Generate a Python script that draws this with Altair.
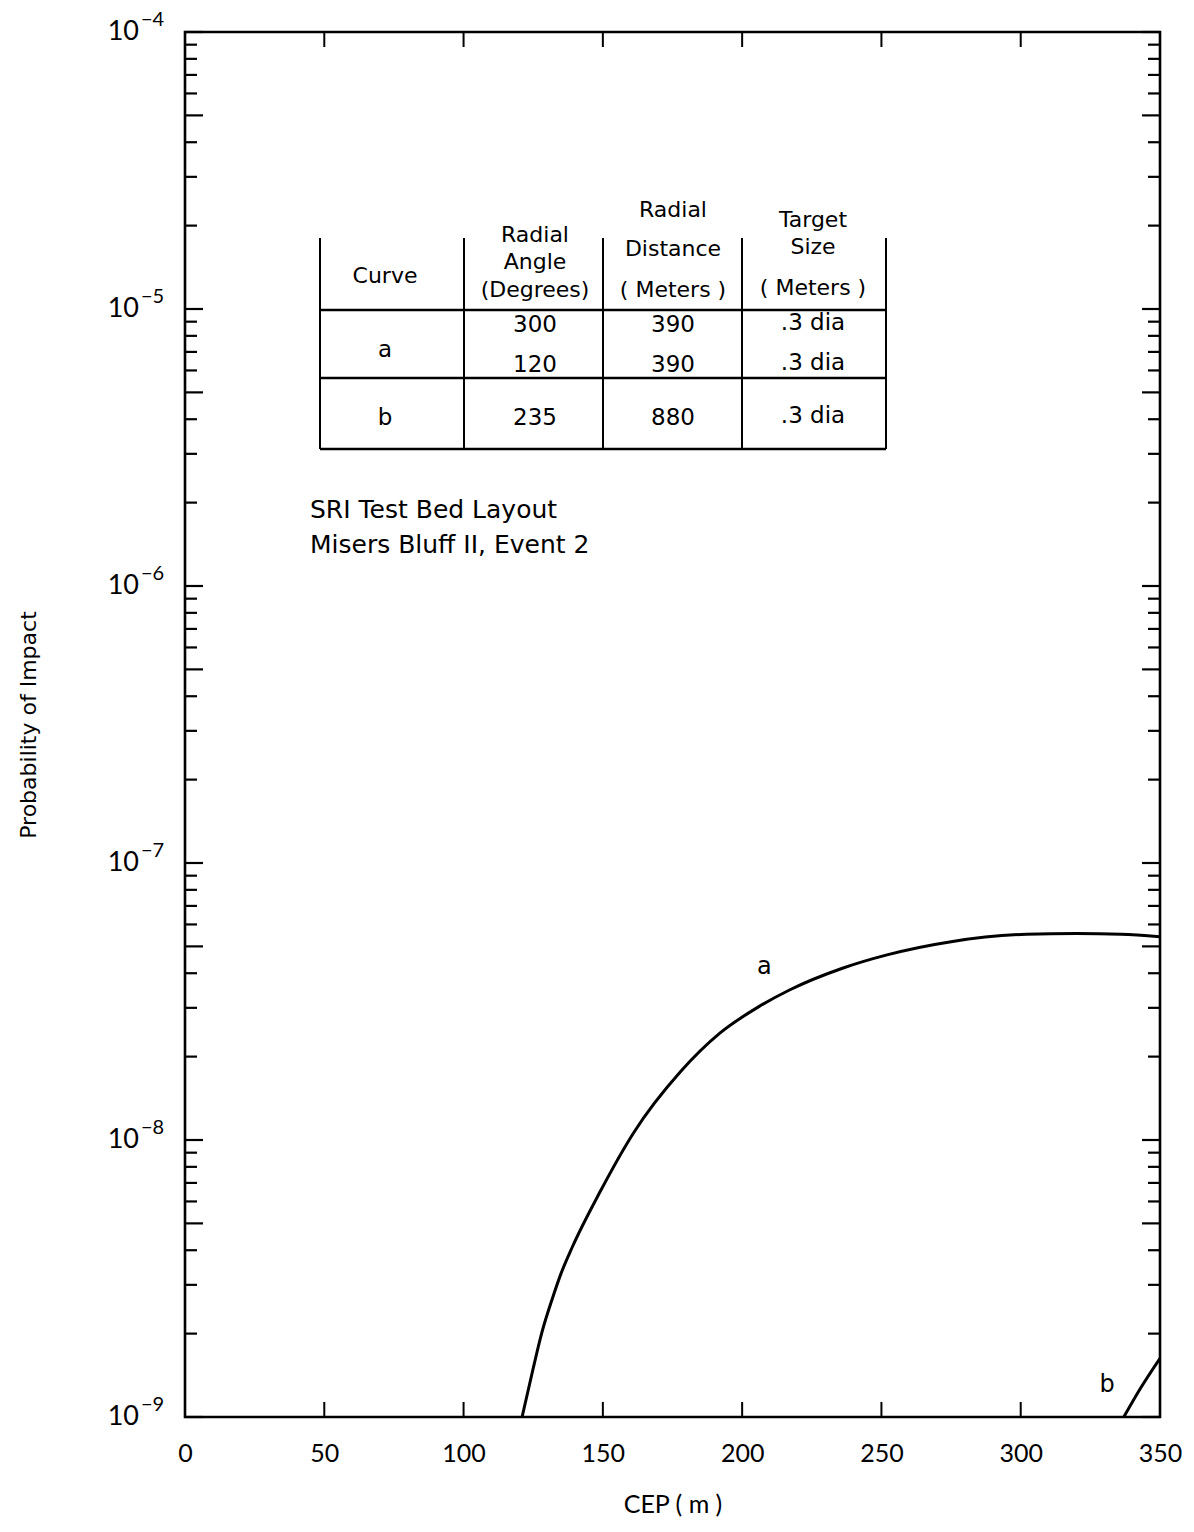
import altair as alt
import pandas as pd

# ---------------- data ----------------
a_cep = [121, 125, 128, 132, 135, 139, 149, 161, 178, 192, 206, 217, 236, 252, 275, 302, 320, 336, 350]
a_p = [1.0e-9, 1.5e-9, 2.0e-9, 2.7e-9, 3.3e-9, 4.1e-9, 6.5e-9, 1.06e-8, 1.77e-8, 2.43e-8, 3.03e-8,
       3.48e-8, 4.17e-8, 4.66e-8, 5.2e-8, 5.53e-8, 5.57e-8, 5.53e-8, 5.42e-8]
b_cep = [337, 343, 350]
b_p = [1.0e-9, 1.27e-9, 1.63e-9]

x_ticks = [0, 50, 100, 150, 200, 250, 300, 350]
decades = [-9, -8, -7, -6, -5, -4]

tbl_curve = ["a", "b"]
tbl_angle = ["300", "120", "235"]
tbl_dist = ["390", "390", "880"]
tbl_size = [".3 dia", ".3 dia", ".3 dia"]
note_lines = ["SRI Test Bed Layout", "Misers Bluff II, Event 2"]

FONT = "Lato"
FONT2 = "DejaVu Sans"
W, H = 975, 1385
XMAX = 350.0


def dx(px):
    return px / W * XMAX


def dy(py):
    return 10 ** (-4 - py / H * 5)


xs = alt.Scale(domain=[0, 350], nice=False, zero=False)
ys = alt.Scale(type="log", domain=[1e-9, 1e-4], nice=False)

curves = pd.DataFrame(
    {"cep": a_cep + b_cep, "p": a_p + b_p,
     "curve": ["a"] * len(a_cep) + ["b"] * len(b_cep)}
)

base_x = alt.X("cep:Q", scale=xs,
               axis=alt.Axis(values=x_ticks, ticks=False, domain=False, grid=False,
                             labelFontSize=25, labelPadding=24, labelFont=FONT,
                             labelFlush=False, labelOverlap=False,
                             labelColor="black", title="CEP ( m )", titleFont=FONT,
                             titleFontSize=25, titleFontWeight="normal",
                             titlePadding=26, titleColor="black"))
base_y = alt.Y("p:Q", scale=ys,
               axis=alt.Axis(labels=False, ticks=False, domain=False, grid=False,
                             title="Probability of Impact", titleFont=FONT2,
                             titleFontSize=22, titleFontWeight="normal",
                             titleColor="black", titleX=-157, titleY=H / 2,
                             titleAngle=-90, titleAlign="center",
                             titleBaseline="middle"))

lines = alt.Chart(curves).mark_line(color="black", strokeWidth=3, clip=True,
                                    interpolate="monotone").encode(
    x=base_x, y=base_y, detail="curve:N")

# ---- inward tick marks ----
minor, major = [], []
for n in decades[:-1]:
    for k in range(1, 10):
        v = k * 10 ** n
        (major if k in (1, 5) else minor).append(v)
major.append(1e-4)
minor_df = pd.DataFrame({"p": minor})
major_df = pd.DataFrame({"p": major})


def ytick(df, x0, x1):
    return alt.Chart(df).mark_rule(color="black", strokeWidth=2.2).encode(
        y=alt.Y("p:Q", scale=ys), x=alt.value(x0), x2=alt.value(x1))


tick_layers = [
    ytick(minor_df, 0, 12), ytick(major_df, 0, 18),
    ytick(minor_df, W - 12, W), ytick(major_df, W - 18, W),
]
xt_df = pd.DataFrame({"cep": x_ticks[1:-1]})
tick_layers.append(alt.Chart(xt_df).mark_rule(color="black", strokeWidth=2).encode(
    x=alt.X("cep:Q", scale=xs), y=alt.value(0), y2=alt.value(15)))
tick_layers.append(alt.Chart(xt_df).mark_rule(color="black", strokeWidth=2).encode(
    x=alt.X("cep:Q", scale=xs), y=alt.value(H - 15), y2=alt.value(H)))

# ---- y labels 10^n ----
ylab = pd.DataFrame({"p": [10.0 ** n for n in decades],
                     "base": ["10"] * len(decades),
                     "exp": ["\u2212" + str(-n) for n in decades]})
ylab_base = alt.Chart(ylab).mark_text(font=FONT, fontSize=27, align="right",
                                      baseline="middle", color="black").encode(
    y=alt.Y("p:Q", scale=ys), x=alt.value(-46), text="base:N")
ylab_exp = alt.Chart(ylab).mark_text(font=FONT, fontSize=20, align="left",
                                     baseline="middle", color="black", dy=-12).encode(
    y=alt.Y("p:Q", scale=ys), x=alt.value(-44), text="exp:N")

# ---- table (positioned in plot pixels converted to data units) ----
col_cx = [200, 350, 488, 628]
hdr_rows = []
hdr = [("Curve", 0, 244),
       ("Radial", 1, 203), ("Angle", 1, 230), ("(Degrees)", 1, 258),
       ("Radial", 2, 178), ("Distance", 2, 217), ("( Meters )", 2, 258),
       ("Target", 3, 188), ("Size", 3, 215), ("( Meters )", 3, 256)]
for t, c, py in hdr:
    hdr_rows.append({"t": t, "cep": dx(col_cx[c]), "p": dy(py)})
body_rows = []
row_py = [293, 333, 386]
body_rows.append({"t": tbl_curve[0], "cep": dx(col_cx[0]), "p": dy(318)})
body_rows.append({"t": tbl_curve[1], "cep": dx(col_cx[0]), "p": dy(386)})
for i in range(3):
    body_rows.append({"t": tbl_angle[i], "cep": dx(col_cx[1]), "p": dy(row_py[i])})
    body_rows.append({"t": tbl_dist[i], "cep": dx(col_cx[2]), "p": dy(row_py[i])})
    body_rows.append({"t": tbl_size[i], "cep": dx(col_cx[3]), "p": dy(row_py[i] - 2)})
tbl_hdr = alt.Chart(pd.DataFrame(hdr_rows)).mark_text(
    font=FONT2, fontSize=22, align="center", baseline="middle", color="black").encode(
    x=alt.X("cep:Q", scale=xs), y=alt.Y("p:Q", scale=ys), text="t:N")
tbl_body = alt.Chart(pd.DataFrame(body_rows)).mark_text(
    font=FONT2, fontSize=23, align="center", baseline="middle", color="black").encode(
    x=alt.X("cep:Q", scale=xs), y=alt.Y("p:Q", scale=ys), text="t:N")

vcols = [135, 279, 418, 557, 701]
vl = pd.DataFrame({"cep": [dx(v) for v in vcols], "p": [dy(206)] * 5,
                   "p2": [dy(417)] * 5})
tbl_v = alt.Chart(vl).mark_rule(color="black", strokeWidth=2).encode(
    x=alt.X("cep:Q", scale=xs), y=alt.Y("p:Q", scale=ys), y2="p2")
hl = pd.DataFrame({"cep": [dx(135)] * 3, "cep2": [dx(701)] * 3,
                   "p": [dy(278), dy(346), dy(417)]})
tbl_h = alt.Chart(hl).mark_rule(color="black", strokeWidth=2.4).encode(
    x=alt.X("cep:Q", scale=xs), x2="cep2", y=alt.Y("p:Q", scale=ys))

note = pd.DataFrame({"t": note_lines, "cep": [dx(125)] * 2,
                     "p": [dy(478), dy(513)]})
note_txt = alt.Chart(note).mark_text(font=FONT2, fontSize=25, align="left",
                                     baseline="middle", color="black").encode(
    x=alt.X("cep:Q", scale=xs), y=alt.Y("p:Q", scale=ys), text="t:N")

clabs = pd.DataFrame({"t": ["a", "b"], "cep": [208, 331], "p": [4.2e-8, 1.31e-9]})
clab_txt = alt.Chart(clabs).mark_text(font=FONT2, fontSize=24, align="center",
                                      baseline="middle", color="black").encode(
    x=alt.X("cep:Q", scale=xs), y=alt.Y("p:Q", scale=ys), text="t:N")

chart = alt.layer(
    lines, *tick_layers, ylab_base, ylab_exp, tbl_hdr, tbl_body, tbl_v, tbl_h,
    note_txt, clab_txt
).properties(
    width=W, height=H,
    autosize=alt.AutoSizeParams(type="none"),
    padding={"left": 185, "top": 32, "right": 34, "bottom": 115},
    background="white",
).configure_view(stroke="black", strokeWidth=2.6)

chart.save("out.html", embed_options={"renderer": "svg", "actions": False})
